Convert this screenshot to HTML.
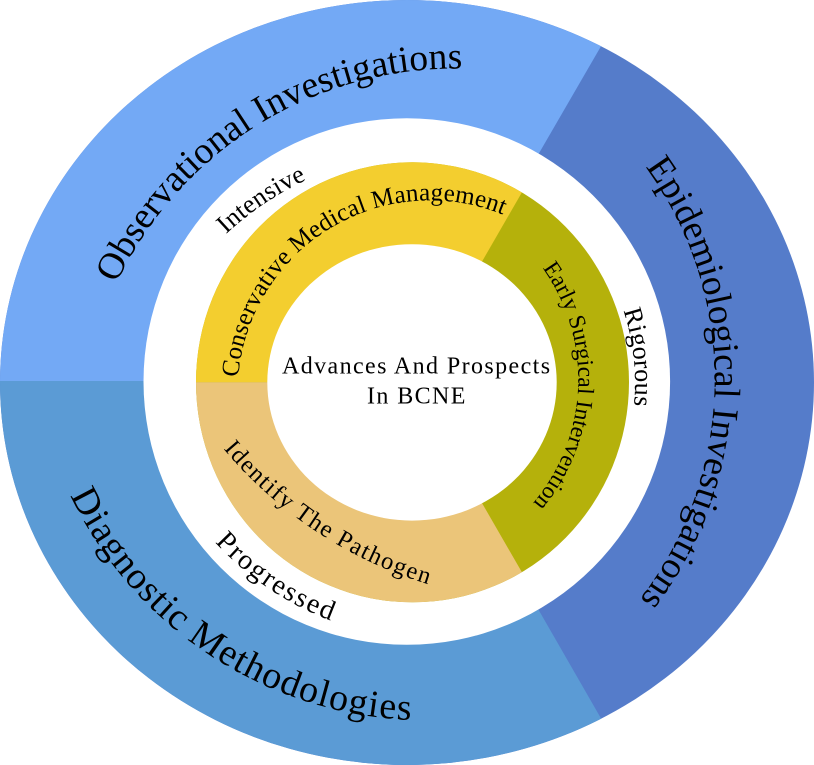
<!DOCTYPE html>
<html>
<head>
<meta charset="utf-8">
<style>
  html, body { margin: 0; padding: 0; background: #ffffff; width: 814px; height: 765px; overflow: hidden; }
  svg { display: block; overflow: hidden; }
  text { font-family: "Liberation Serif", "Times New Roman", serif; fill: #000; }
</style>
</head>
<body>
<svg width="814" height="765" viewBox="0 0 814 765" xmlns="http://www.w3.org/2000/svg">
  <defs>
    <clipPath id="co"><ellipse cx="407" cy="382.5" rx="407" ry="382.5"/></clipPath>
    <clipPath id="ci"><ellipse cx="412.5" cy="382.3" rx="216.5" ry="220"/></clipPath>

    <path id="pObs" d="M116.4,283.5 A376,376 0 0 1 514.4,73.0"/>
    <path id="pEpi" d="M645.4,166.8 A360.6,360.6 0 0 1 606.3,637.0"/>
    <path id="pDia" d="M70.2,495.3 A396.4,396.4 0 0 0 466.6,718.5"/>
    <path id="pCon" d="M238.25,377.2 A192.6,192.6 0 0 1 526.5,226.2"/>
    <path id="pEar" d="M542.5,268.0 A191.5,191.5 0 0 1 514.9,521.8"/>
    <path id="pIde" d="M223.4,448.8 A434,434 0 0 0 442.8,588.5"/>
    <path id="pInt" d="M226.1,234.2 A300,300 0 0 1 320.8,173.8"/>
    <path id="pRig" d="M623.3,310.5 A228,228 0 0 1 629.2,433.8"/>
    <path id="pPro" d="M215.0,542.2 A300,300 0 0 0 348.6,626.6"/>
  </defs>

  <!-- Outer ring -->
  <ellipse cx="407" cy="382.5" rx="407" ry="382.5" fill="#557CCA"/>
  <g clip-path="url(#co)">
    <polygon fill="#73A9F5" points="407,381 0,381 0,0 627.8,0"/>
    <polygon fill="#5B9BD5" points="407,381 627.8,765 0,765 0,381"/>
  </g>
  <circle cx="406.8" cy="381.5" r="263.3" fill="#ffffff"/>

  <!-- Inner ring -->
  <ellipse cx="412.5" cy="382.3" rx="216.5" ry="220" fill="#B5B10B"/>
  <g clip-path="url(#ci)">
    <polygon fill="#F3CE2F" points="412.3,382.3 0,382.3 0,0 633.0,0"/>
    <polygon fill="#EBC579" points="412.3,382.3 633.2,765 0,765 0,382.3"/>
  </g>
  <ellipse cx="412" cy="382.4" rx="144.7" ry="138.2" fill="#ffffff"/>

  <!-- Outer ring labels -->
  <text font-size="37.5"><textPath href="#pObs">Observational Investigations</textPath></text>
  <text font-size="37.2"><textPath href="#pEpi">Epidemiological Investigations</textPath></text>
  <text font-size="38" letter-spacing="1.15"><textPath href="#pDia">Diagnostic Methodologies</textPath></text>

  <!-- Inner ring labels -->
  <text font-size="25" letter-spacing="0.13"><textPath href="#pCon">Conservative Medical Management</textPath></text>
  <text font-size="23.3"><textPath href="#pEar">Early Surgical Intervention</textPath></text>
  <text font-size="24.5" letter-spacing="1.5"><textPath href="#pIde">Identify The Pathogen</textPath></text>

  <!-- Gap labels -->
  <text font-size="26" letter-spacing="0.25"><textPath href="#pInt">Intensive</textPath></text>
  <text font-size="26" letter-spacing="0.17"><textPath href="#pRig">Rigorous</textPath></text>
  <text font-size="28" letter-spacing="2.0"><textPath href="#pPro">Progressed</textPath></text>

  <!-- Center -->
  <text font-size="24" letter-spacing="1.4" x="282" y="373.3">Advances And Prospects</text>
  <text font-size="24" letter-spacing="1.4" x="367" y="403.3">In BCNE</text>
</svg>
</body>
</html>
